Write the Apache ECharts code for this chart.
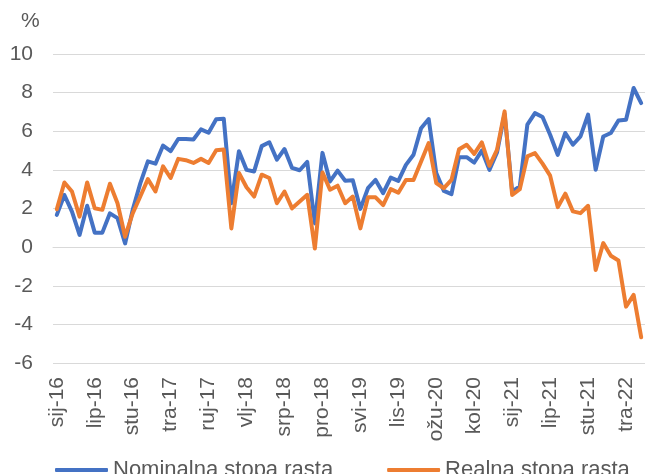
<!DOCTYPE html>
<html>
<head>
<meta charset="utf-8">
<script src="https://cdn.jsdelivr.net/npm/echarts@6/dist/echarts.min.js"></script>
<style>html,body{margin:0;padding:0;background:#fff}#c{width:645px;height:474px}</style>
</head>
<body>
<div id="c"></div>
<script>
const monthNames = ['sij','vlj','ožu','tra','svi','lip','srp','kol','ruj','lis','stu','pro'];
const startYear = 16;
const pointCount = 78;
const seriesNames = ['Nominalna stopa rasta', 'Realna stopa rasta'];
const nominal = [
  1.67, 2.7, 1.84, 0.63, 2.14, 0.75, 0.75, 1.75, 1.5, 0.19,
  1.93, 3.3, 4.44, 4.32, 5.26, 4.97, 5.6, 5.6, 5.57, 6.1,
  5.92, 6.62, 6.65, 2.27, 4.97, 4.0, 3.92, 5.23, 5.43, 4.53,
  5.08, 4.1, 3.98, 4.41, 1.23, 4.88, 3.4, 3.96, 3.44, 3.46,
  1.98, 3.05, 3.48, 2.79, 3.6, 3.43, 4.26, 4.78, 6.16, 6.63,
  3.83, 2.91, 2.74, 4.66, 4.66, 4.38, 5.0, 4.0, 4.9, 6.9,
  2.88, 3.14, 6.34, 6.94, 6.74, 5.82, 4.78, 5.91, 5.3, 5.73,
  6.86, 4.01, 5.73, 5.91, 6.56, 6.6, 8.24, 7.46
];
const real = [
  1.96, 3.35, 2.88, 1.58, 3.35, 2.01, 1.93, 3.28, 2.27, 0.54,
  1.75, 2.62, 3.52, 2.88, 4.18, 3.58, 4.57, 4.5, 4.36, 4.57,
  4.36, 5.02, 5.05, 0.97, 3.84, 3.1, 2.62, 3.75, 3.58, 2.27,
  2.88, 2.01, 2.36, 2.71, -0.07, 3.87, 2.97, 3.18, 2.27, 2.62,
  0.97, 2.58, 2.58, 2.18, 3.0, 2.82, 3.48, 3.48, 4.43, 5.39,
  3.31, 3.05, 3.48, 5.07, 5.3, 4.83, 5.42, 4.21, 5.04, 7.03,
  2.7, 3.0, 4.7, 4.87, 4.32, 3.7, 2.07, 2.77, 1.85, 1.76,
  2.14, -1.18, 0.21, -0.45, -0.69, -3.08, -2.47, -4.67
];
const yTicks = {min: -6, max: 10, interval: 2};

const categories = [];
for (let i = 0; i < pointCount; i++) {
  categories.push(monthNames[i % 12] + '-' + (startYear + Math.floor(i / 12)));
}

const font = 'Liberation Sans, Arial, sans-serif';
const textColor = '#595959';
const chart = echarts.init(document.getElementById('c'));
chart.setOption({
  animation: false,
  backgroundColor: '#ffffff',
  title: {
    text: '%', left: 21, top: 11, padding: 0,
    textStyle: {fontFamily: font, fontSize: 21, fontWeight: 'normal', color: textColor}
  },
  legend: {
    data: seriesNames,
    left: 55, top: 459, padding: 0,
    icon: 'roundRect', itemWidth: 53, itemHeight: 4, itemGap: 54,
    textStyle: {fontFamily: font, fontSize: 22, color: textColor}
  },
  grid: {left: 53, right: -1, top: 54, bottom: 111, containLabel: false},
  xAxis: {
    type: 'category', data: categories, boundaryGap: true,
    axisLine: {lineStyle: {color: '#d9d9d9', width: 1}},
    axisTick: {show: false},
    axisLabel: {interval: 4, rotate: 90, margin: 14, fontFamily: font, fontSize: 21, color: textColor}
  },
  yAxis: {
    type: 'value', min: yTicks.min, max: yTicks.max, interval: yTicks.interval,
    axisLine: {show: false}, axisTick: {show: false},
    axisLabel: {margin: 20, fontFamily: font, fontSize: 21, color: textColor},
    splitLine: {lineStyle: {color: '#d9d9d9', width: 1}}
  },
  series: [
    {name: seriesNames[0], type: 'line', data: nominal, showSymbol: false, symbol: 'none',
     lineStyle: {color: '#4472C4', width: 4, cap: 'round', join: 'round'}, itemStyle: {color: '#4472C4'}},
    {name: seriesNames[1], type: 'line', data: real, showSymbol: false, symbol: 'none',
     lineStyle: {color: '#ED7D31', width: 4, cap: 'round', join: 'round'}, itemStyle: {color: '#ED7D31'}}
  ]
});
</script>
</body>
</html>
